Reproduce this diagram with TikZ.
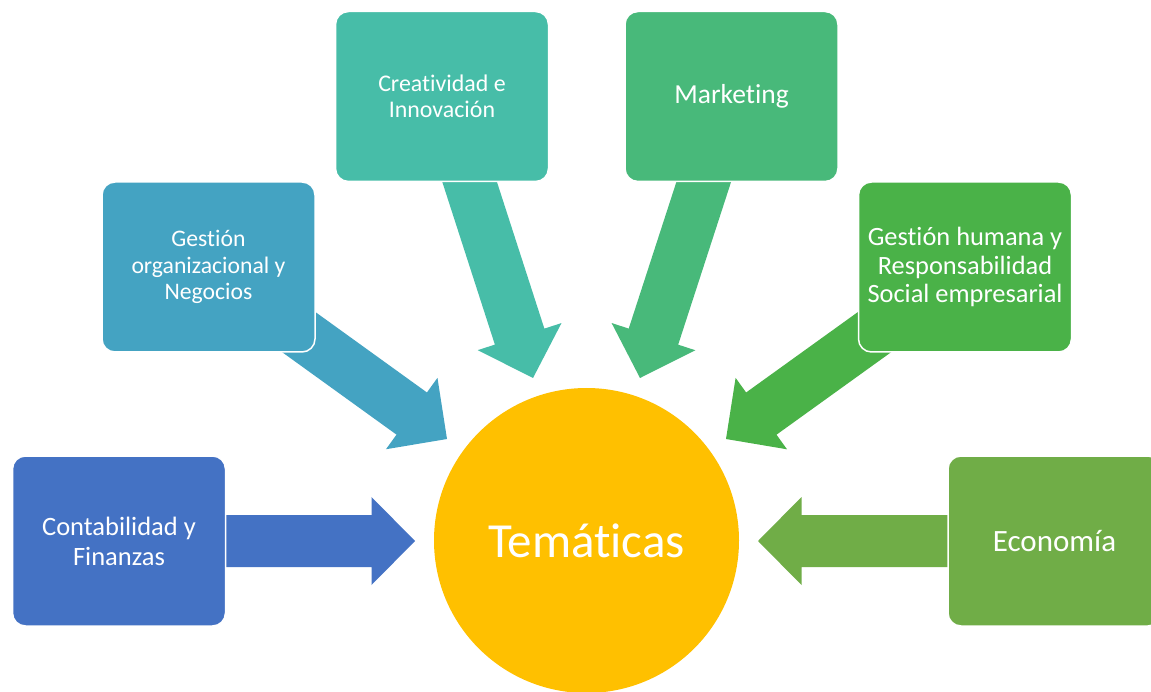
\documentclass[tikz,border=0pt]{standalone}
\usepackage{fontspec}
\setmainfont{Carlito}[RawFeature={-liga;-clig;-dlig;-calt}]
\usetikzlibrary{calc,backgrounds}
\definecolor{cConta}{RGB}{68,114,196}
\definecolor{cGest}{RGB}{68,163,194}
\definecolor{cCrea}{RGB}{71,189,168}
\definecolor{cMark}{RGB}{72,185,122}
\definecolor{cHum}{RGB}{74,178,72}
\definecolor{cEco}{RGB}{112,173,71}
\definecolor{cTema}{RGB}{255,192,0}
\tikzset{
  topic/.style={rectangle, rounded corners=13pt, minimum width=213pt, minimum height=170pt,
    draw=white, line width=1.5pt, text=white, align=center, inner sep=0pt},
  hub/.style={circle, fill=cTema, minimum size=305pt, inner sep=0pt, text=white},
}
\newcommand{\blockarr}[3]{%
  \path ($(#2)!43.5pt!(#1.center)$) coordinate (ba-h);
  \fill[#3] ($(#1.center)!26pt!90:(#2)$) -- ($(ba-h)!26pt!90:(#2)$) -- ($(ba-h)!44pt!90:(#2)$)
    -- (#2) -- ($(ba-h)!44pt!-90:(#2)$) -- ($(ba-h)!26pt!-90:(#2)$)
    -- ($(#1.center)!26pt!-90:(#2)$) -- cycle;
}
\begin{document}
\begin{tikzpicture}[x=1pt,y=-1pt]
\useasboundingbox (0,0) rectangle (1151,692);
\clip (0,0) rectangle (1151,692);
% topic boxes
\node[topic, fill=cConta, font=\fontsize{26.5}{30}\selectfont] (conta) at (119,541) {Contabilidad y\\Finanzas};
\node[topic, fill=cGest, font=\fontsize{23.7}{26.5}\selectfont] (gest) at (208.5,267) {Gestión\\organizacional y\\Negocios};
\node[topic, fill=cCrea, font=\fontsize{23.9}{26.5}\selectfont] (crea) at (442,96.5) {Creatividad e\\Innovación};
\node[topic, fill=cMark, font=\fontsize{27.5}{30}\selectfont] (mark) at (731.5,96.5) {Marketing};
\node[topic, fill=cHum, font=\fontsize{26.4}{28.5}\selectfont] (hum) at (965,267) {Gestión humana y\\Responsabilidad\\Social empresarial};
\node[topic, fill=cEco, font=\fontsize{31}{34}\selectfont] (eco) at (1054.5,541) {Economía};
% hub
\node[hub, font=\fontsize{49}{54}\selectfont] (tema) at (586.5,540.5) {Temáticas};
% arrow tips
\coordinate (tA) at (415,541);
\coordinate (tB) at (447,439);
\coordinate (tC) at (533,378);
\coordinate (tD) at (640,378);
\coordinate (tE) at (726,439);
\coordinate (tF) at (758,541);
\begin{scope}[on background layer]
  \fill[white] (0,0) rectangle (1151,692);
  \blockarr{conta}{tA}{cConta}
  \blockarr{gest}{tB}{cGest}
  \blockarr{crea}{tC}{cCrea}
  \blockarr{mark}{tD}{cMark}
  \blockarr{hum}{tE}{cHum}
  \blockarr{eco}{tF}{cEco}
\end{scope}
\end{tikzpicture}
\end{document}
